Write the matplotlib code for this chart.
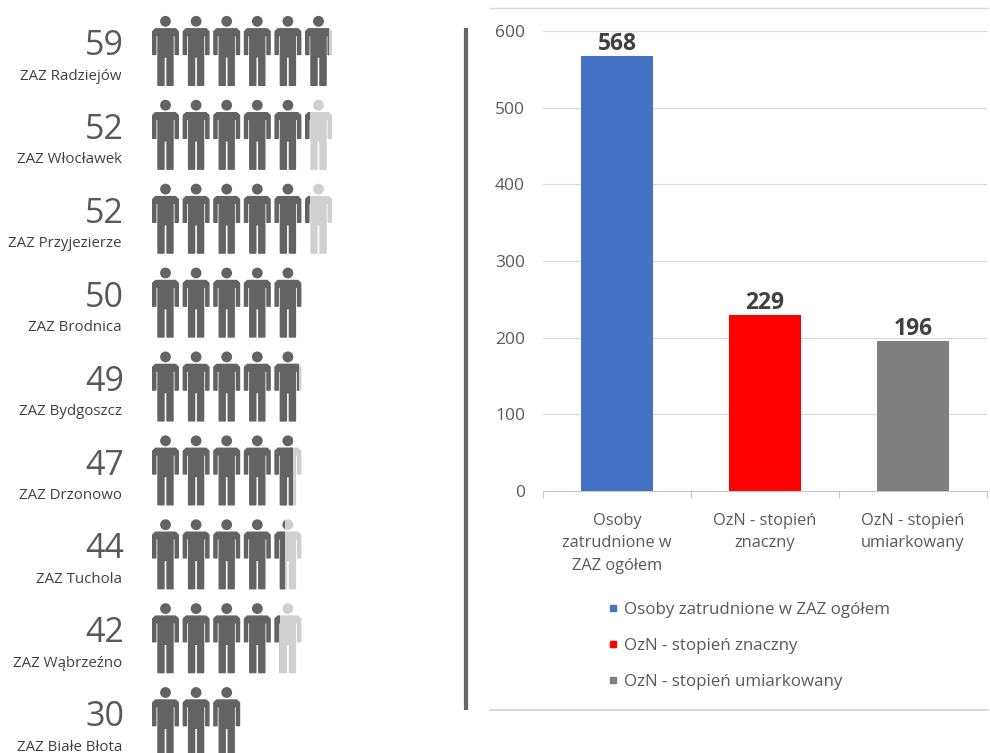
import matplotlib
matplotlib.use("Agg")
import matplotlib.pyplot as plt
from matplotlib.lines import Line2D
from matplotlib.patches import Circle, PathPatch, Rectangle
from matplotlib.path import Path

plt.rcParams["font.family"] = ["Open Sans", "DejaVu Sans"]

zaz_names = ["ZAZ Radziejów", "ZAZ Włocławek", "ZAZ Przyjezierze", "ZAZ Brodnica", "ZAZ Bydgoszcz",
             "ZAZ Drzonowo", "ZAZ Tuchola", "ZAZ Wąbrzeźno", "ZAZ Białe Błota"]
zaz_counts = [59, 52, 52, 50, 49, 47, 44, 42, 30]

categories = ["Osoby\nzatrudnione w\nZAZ ogółem", "OzN - stopień\nznaczny", "OzN - stopień\numiarkowany"]
series_names = ["Osoby zatrudnione w ZAZ ogółem", "OzN - stopień znaczny", "OzN - stopień umiarkowany"]
values = [568, 229, 196]
bar_colors = ["#4472c4", "#ff0000", "#7f7f7f"]

DARK = "#636363"
LIGHT = "#d0d0d0"
TEXT = "#595959"
W, H = 990, 753


def body_path(x, y):
    # outline is inset a bit, the round edge line gives it the soft corners
    pts = [(3.5, 12.8), (23.5, 12.8), (26.3, 15.5), (26.3, 38.5), (23.2, 38.5), (23.2, 19.5), (21, 19.5),
           (21, 69.3), (15, 69.3), (15, 41), (12, 41), (12, 69.3), (6, 69.3), (6, 19.5), (3.8, 19.5),
           (3.8, 38.5), (0.7, 38.5), (0.7, 15.5), (3.5, 12.8)]
    return Path([(x + a, y + b) for a, b in pts], closed=True)


def draw_person(ax, x, y, color, clip=None):
    parts = [PathPatch(body_path(x, y), fc=color, ec=color, lw=1.0, joinstyle="round"),
             Circle((x + 13.5, y + 5.3), 5.4, fc=color, ec="none")]
    for p in parts:
        ax.add_patch(p)
        if clip is not None:
            p.set_clip_path(clip)


def draw_people(ax, count, y):
    # one figure stands for 10 people, the last one is only partly dark
    for i in range(6):
        part = min(max(count / 10 - i, 0), 1)
        x = 152 + i * 30.6
        if part == 1:
            draw_person(ax, x, y, DARK)
        elif part > 0:
            draw_person(ax, x, y, LIGHT)
            clip = Rectangle((x, y - 1), 27 * part, 73, transform=ax.transData)
            draw_person(ax, x, y, DARK, clip)


def main():
    fig = plt.figure(figsize=(9.9, 7.53), dpi=100)

    # left part and the loose lines, in pixel coordinates
    bg = fig.add_axes([0, 0, 1, 1])
    bg.set_xlim(0, W)
    bg.set_ylim(H, 0)
    bg.axis("off")
    for i, (name, count) in enumerate(zip(zaz_names, zaz_counts)):
        y = 16 + i * 83.9
        bg.text(124, y + 30, str(count), ha="right", va="center", fontsize=24.5, color=TEXT)
        bg.text(122, y + 60, name, ha="right", va="center", fontsize=10.8, color="#404040")
        draw_people(bg, count, y)
    bg.plot([466, 466], [28, 710], color="#666666", lw=3, solid_capstyle="butt")
    bg.plot([490, 988], [8, 8], color="#d9d9d9", lw=1)
    bg.plot([490, 988], [710, 710], color="#d0d0d0", lw=1.2)

    # bar chart
    ax = fig.add_axes([543 / W, 1 - 491 / H, 444 / W, 460 / H])
    ax.patch.set_visible(False)
    ax.bar(range(3), values, width=0.486, color=bar_colors, zorder=3)
    ax.set_xlim(-0.5, 2.5)
    ax.set_ylim(0, 600)
    ax.set_yticks(range(0, 601, 100))
    ax.grid(axis="y", color="#d9d9d9", lw=0.8)
    ax.set_axisbelow(True)
    for s in ["top", "right", "left"]:
        ax.spines[s].set_visible(False)
    ax.spines["bottom"].set_color("#c8c8c8")
    ax.set_xticks([-0.5, 0.5, 1.5, 2.5])
    ax.set_xticklabels([])
    ax.tick_params(axis="x", length=5, color="#c8c8c8")
    ax.tick_params(axis="y", length=0, pad=13, labelsize=12.5, labelcolor=TEXT)
    for i, cat in enumerate(categories):
        ax.annotate(cat, (i, 0), xytext=(0, -15.5), textcoords="offset points", ha="center", va="top",
                    fontsize=11.8, color=TEXT, linespacing=1.55)
    for i, v in enumerate(values):
        ax.annotate(str(v), (i, v), xytext=(0, 0), textcoords="offset points", ha="center",
                    va="bottom", fontsize=16.5, fontweight="bold", color="#404040", zorder=5)

    handles = [Line2D([], [], marker="s", ls="none", ms=4.5, color=c) for c in bar_colors]
    bg.legend(handles, series_names, loc="center left", bbox_to_anchor=(609 / W, 1 - 646 / H), frameon=False,
              fontsize=12.2, labelcolor=TEXT, labelspacing=1.18, handlelength=0.5, handletextpad=0.4,
              borderpad=0, borderaxespad=0)

    fig.savefig("out.png", dpi=100)


if __name__ == "__main__":
    main()
